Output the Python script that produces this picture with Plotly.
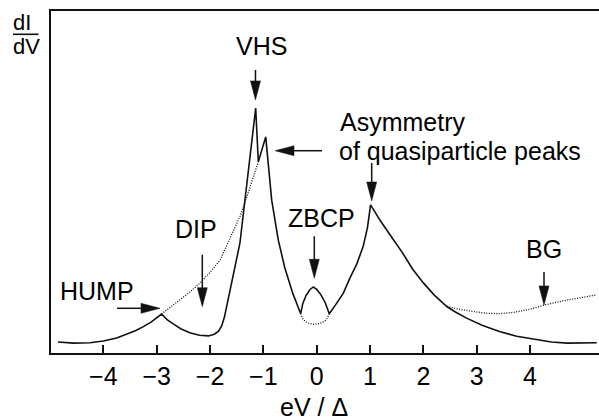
import plotly.graph_objects as go

# ---------------- data ----------------
solid_x = [-4.85, -4.56, -4.25, -4.0, -3.75, -3.56, -3.4, -3.25, -3.1, -2.91,
           -2.8, -2.69, -2.55, -2.38, -2.2, -2.03, -1.92, -1.84, -1.78, -1.73,
           -1.66, -1.59, -1.44, -1.144,
           -1.095, -0.956,
           -0.844, -0.72, -0.6, -0.45, -0.30,
           -0.26, -0.20, -0.13, -0.064, 0.0, 0.08, 0.16, 0.236,
           0.35, 0.5, 0.62, 0.75, 0.87, 0.95, 1.01,
           1.2, 1.4, 1.6, 1.8, 2.0, 2.2, 2.44, 2.6, 2.81, 3.1, 3.44, 3.75,
           4.06, 4.4, 4.7, 5.25]
solid_y = [0.32, 0.29, 0.30, 0.35, 0.44, 0.55, 0.65, 0.77, 0.91, 1.14,
           0.97, 0.85, 0.71, 0.59, 0.52, 0.50, 0.55, 0.64, 0.80, 1.05,
           1.55, 2.13, 3.21, 7.16,
           5.59, 6.32,
           4.47, 3.3, 2.5, 1.75, 1.15,
           1.45, 1.68, 1.85, 1.93, 1.86, 1.70, 1.47, 1.15,
           1.40, 1.75, 2.18, 2.6, 3.11, 3.65, 4.33,
           3.85, 3.4, 2.95, 2.45, 2.05, 1.7, 1.36, 1.2, 1.02, 0.81, 0.62, 0.49,
           0.40, 0.32, 0.29, 0.30]

# dotted "normal state" curve from HUMP up to the quasiparticle peak
hump_dot_x = [-2.91, -2.75, -2.56, -2.38, -2.19, -2.0, -1.81, -1.65, -1.50, -1.44, -1.33, -1.095]
hump_dot_y = [1.14, 1.33, 1.55, 1.78, 2.04, 2.36, 2.72, 3.25, 3.79, 3.99, 4.47, 5.59]

# dotted curve under the ZBCP
zbcp_dot_x = [-0.30, -0.26, -0.22, -0.15, -0.064, 0.05, 0.15, 0.20, 0.236]
zbcp_dot_y = [1.15, 1.0, 0.93, 0.87, 0.84, 0.86, 0.93, 1.02, 1.15]

# dotted background (BG)
bg_dot_x = [2.44, 2.7, 3.0, 3.2, 3.44, 3.7, 4.0, 4.26, 4.6, 4.9, 5.25]
bg_dot_y = [1.36, 1.27, 1.20, 1.16, 1.15, 1.19, 1.28, 1.40, 1.52, 1.61, 1.70]

tick_vals = [-4, -3, -2, -1, 0, 1, 2, 3, 4]
tick_text = ["\u22124", "\u22123", "\u22122", "\u22121", "0", "1", "2", "3", "4"]

# ---------------- layout constants ----------------
W, H = 599, 420
ML, MR, MT, MB = 51, 0, 11, 67
X_RANGE = [-4.982, 5.293]
Y_RANGE = [0, 10]
PW, PH = W - ML - MR, H - MT - MB
SX = PW / (X_RANGE[1] - X_RANGE[0])
SY = PH / (Y_RANGE[1] - Y_RANGE[0])

FONT = "Liberation Sans, Arial, Helvetica, sans-serif"
INK = "#111111"

fig = go.Figure()
fig.add_trace(go.Scatter(x=solid_x, y=solid_y, mode="lines",
                         line=dict(color=INK, width=1.6), hoverinfo="skip"))
for xs, ys in [(hump_dot_x, hump_dot_y), (zbcp_dot_x, zbcp_dot_y), (bg_dot_x, bg_dot_y)]:
    fig.add_trace(go.Scatter(x=xs, y=ys, mode="lines",
                             line=dict(color=INK, width=1.3, dash="1px,1.5px"),
                             hoverinfo="skip"))

shapes = []


def add_arrow(x, y, direction, length, head_len=19, head_half=5):
    """Arrow with tip at data (x, y); direction in which it points; length in px."""
    ux, uy = {"down": (0, 1), "up": (0, -1), "left": (-1, 0), "right": (1, 0)}[direction]

    def off(dpx, dpy):
        return x + dpx / SX, y - dpy / SY

    tail = off(-ux * length, -uy * length)
    base = off(-ux * (head_len - 2), -uy * (head_len - 2))
    pxn, pyn = -uy, ux
    b1 = off(-ux * head_len + pxn * head_half, -uy * head_len + pyn * head_half)
    b2 = off(-ux * head_len - pxn * head_half, -uy * head_len - pyn * head_half)
    shapes.append(dict(type="line", xref="x", yref="y", x0=tail[0], y0=tail[1],
                       x1=base[0], y1=base[1], line=dict(color=INK, width=1.5)))
    shapes.append(dict(type="path", xref="x", yref="y",
                       path=f"M{x},{y} L{b1[0]},{b1[1]} L{b2[0]},{b2[1]} Z",
                       fillcolor=INK, line=dict(color=INK, width=0.5)))


# arrow targets (data coords)
add_arrow(-1.148, 7.40, "down", 30)     # VHS
add_arrow(-0.782, 5.915, "left", 47)    # asymmetry
add_arrow(1.031, 4.444, "down", 38)     # quasiparticle peak at +1
add_arrow(-0.045, 2.184, "down", 42)    # ZBCP
add_arrow(-2.145, 1.354, "down", 52)    # DIP
add_arrow(-2.938, 1.307, "right", 43)   # HUMP
add_arrow(4.262, 1.404, "down", 33)     # BG

# fraction bar of dI/dV
shapes.append(dict(type="line", xref="paper", yref="paper",
                   x0=(13.0 - ML) / PW, x1=(38.5 - ML) / PW,
                   y0=(H - MB - 34.3) / PH, y1=(H - MB - 34.3) / PH,
                   line=dict(color=INK, width=1.6)))

tf = dict(family=FONT, size=25, color="black")
annotations = [
    dict(x=-1.039, y=8.98, text="VHS", xanchor="center"),
    dict(x=0.42, y=6.745, text="Asymmetry", xanchor="left"),
    dict(x=0.395, y=5.91, text="of quasiparticle peaks", xanchor="left"),
    dict(x=0.094, y=3.94, text="ZBCP", xanchor="center"),
    dict(x=-2.267, y=3.62, text="DIP", xanchor="center"),
    dict(x=-4.125, y=1.817, text="HUMP", xanchor="center"),
    dict(x=4.262, y=3.051, text="BG", xanchor="center"),
]
for a in annotations:
    a.update(xref="x", yref="y", yanchor="middle", showarrow=False, font=tf,
             borderpad=0)

lab_font = dict(family=FONT, size=22, color="black")
annotations += [
    dict(xref="x", yref="paper", x=-0.05, y=(H - MB - 406.5) / PH, text="eV / \u0394",
         xanchor="center", yanchor="middle", showarrow=False, font=tf),
    dict(xref="paper", yref="paper", x=(11.0 - ML) / PW, y=(H - MB - 22.5) / PH, text="dI",
         xanchor="left", yanchor="middle", showarrow=False, font=lab_font),
    dict(xref="paper", yref="paper", x=(11.0 - ML) / PW, y=(H - MB - 46.5) / PH, text="dV",
         xanchor="left", yanchor="middle", showarrow=False, font=lab_font),
]

fig.update_layout(
    width=W, height=H,
    margin=dict(l=ML, r=MR, t=MT, b=MB, pad=0),
    paper_bgcolor="white", plot_bgcolor="white",
    showlegend=False,
    shapes=shapes, annotations=annotations,
    xaxis=dict(range=X_RANGE, tickvals=tick_vals, ticktext=tick_text,
               ticks="inside", ticklen=8, tickwidth=1.5, tickcolor=INK,
               showline=True, linewidth=2, linecolor=INK, mirror=True,
               showgrid=False, zeroline=False, tickfont=tf, fixedrange=True),
    yaxis=dict(range=Y_RANGE, showticklabels=False, ticks="",
               showline=True, linewidth=1.5, linecolor=INK, mirror=False,
               showgrid=False, zeroline=False, fixedrange=True),
)

fig.write_html("out.html")
